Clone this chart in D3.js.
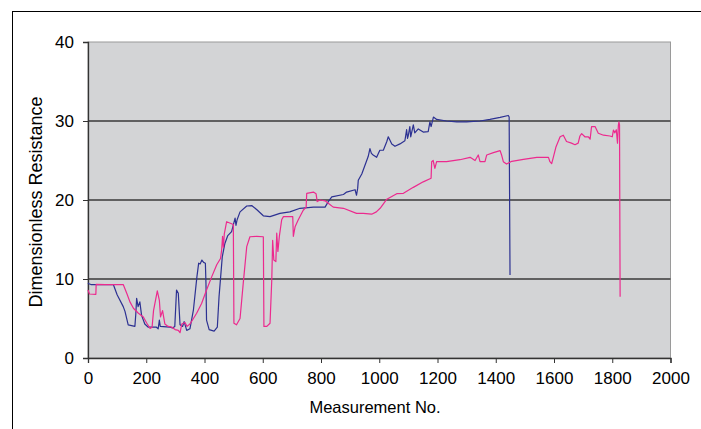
<!DOCTYPE html>
<html>
<head>
<meta charset="utf-8">
<script src="https://cdn.jsdelivr.net/npm/d3@7"></script>
<style>
  body { margin: 0; background: #fff; }
  svg { display: block; font-family: Arial, "Liberation Sans", sans-serif; }
</style>
</head>
<body>
<div id="chart"></div>
<script>
// ---- data ----
const xTicks = [0, 200, 400, 600, 800, 1000, 1200, 1400, 1600, 1800, 2000];
const yTicks = [0, 10, 20, 30, 40];

// blue series: measurement no. / dimensionless resistance
const blueX = [0, 3, 10, 50, 87, 100, 121, 127, 138, 161, 164, 167, 172, 178, 184, 195, 207, 235, 241, 245, 248, 281, 290, 298, 304, 310, 316, 325, 330, 339, 350, 362, 374, 380, 385, 391, 397, 403, 405, 407, 416, 433, 444, 450, 461, 470, 480, 493, 505, 508, 512, 522, 545, 562, 579, 602, 625, 659, 693, 728, 774, 814, 825, 837, 877, 888, 917, 922, 926, 928, 940, 951, 962, 968, 973, 979, 991, 1002, 1014, 1026, 1031, 1043, 1054, 1071, 1088, 1094, 1097, 1100, 1105, 1108, 1111, 1117, 1122, 1134, 1151, 1168, 1174, 1178, 1186, 1197, 1231, 1266, 1300, 1346, 1380, 1415, 1443, 1446, 1449];
const blueY = [9.5, 9.4, 9.3, 9.3, 9.3, 8.0, 6.5, 5.9, 4.2, 4.0, 5.5, 7.55, 6.5, 7.1, 5.4, 4.3, 3.9, 3.9, 3.7, 4.8, 4.0, 3.9, 3.8, 4.0, 8.6, 8.2, 4.2, 4.0, 4.6, 3.5, 3.7, 6.1, 10.3, 12.0, 11.9, 12.4, 12.1, 12.0, 9.5, 4.8, 3.6, 3.4, 3.9, 7.8, 12.8, 14.5, 15.5, 16.0, 17.7, 16.8, 17.5, 18.5, 19.24, 19.3, 18.8, 18.0, 17.9, 18.3, 18.5, 18.95, 19.1, 19.1, 19.8, 20.4, 20.7, 21.0, 21.3, 20.6, 21.5, 22.5, 23.3, 24.4, 25.5, 26.5, 25.9, 25.7, 25.4, 26.3, 26.3, 27.4, 28.0, 27.1, 26.8, 27.1, 27.5, 28.9, 27.8, 28.2, 29.3, 28.0, 28.5, 29.5, 28.5, 29.0, 28.6, 28.65, 29.9, 29.3, 30.5, 30.2, 30.0, 29.9, 29.9, 30.0, 30.2, 30.45, 30.7, 30.5, 10.5];

// pink series
const pinkX = [0, 5, 27, 28, 60, 121, 133, 144, 156, 173, 190, 202, 213, 220, 225, 238, 245, 249, 256, 264, 275, 288, 299, 310, 316, 322, 333, 340, 350, 362, 373, 390, 407, 425, 442, 455, 459, 462, 465, 468, 476, 493, 499, 501, 510, 522, 533, 545, 556, 579, 602, 604, 614, 625, 631, 634, 638, 645, 648, 652, 657, 665, 671, 694, 703, 705, 711, 722, 739, 749, 751, 774, 783, 787, 797, 814, 825, 842, 877, 922, 945, 974, 990, 1003, 1026, 1060, 1083, 1117, 1151, 1178, 1180, 1185, 1191, 1197, 1231, 1277, 1312, 1329, 1340, 1346, 1363, 1369, 1392, 1415, 1420, 1426, 1437, 1455, 1495, 1541, 1581, 1586, 1592, 1597, 1607, 1621, 1632, 1643, 1660, 1672, 1683, 1689, 1695, 1706, 1718, 1724, 1729, 1741, 1752, 1770, 1792, 1800, 1804, 1809, 1814, 1818, 1821, 1823, 1825, 1827];
const pinkY = [8.6, 8.1, 8.06, 9.33, 9.3, 9.3, 8.2, 7.1, 6.3, 5.66, 5.2, 4.4, 3.75, 3.9, 6.0, 8.5, 7.3, 5.2, 6.0, 4.3, 4.0, 3.9, 3.6, 3.5, 3.2, 4.3, 4.5, 4.0, 4.3, 5.0, 5.66, 6.9, 8.6, 10.3, 11.8, 12.6, 13.7, 15.4, 14.0, 15.7, 17.25, 17.0, 16.9, 4.4, 4.2, 5.0, 9.45, 14.1, 15.35, 15.4, 15.35, 4.0, 4.0, 4.4, 9.9, 14.9, 12.4, 12.2, 15.8, 13.5, 15.4, 17.5, 17.9, 17.9, 17.9, 15.4, 16.6, 17.5, 18.7, 19.1, 20.85, 21.0, 20.8, 19.8, 20.0, 19.9, 19.6, 19.1, 18.95, 18.3, 18.3, 18.2, 18.5, 18.95, 20.1, 20.8, 20.85, 21.6, 22.3, 22.75, 24.85, 25.0, 24.0, 24.85, 24.85, 25.1, 25.4, 25.0, 25.7, 24.85, 24.85, 25.7, 26.0, 26.25, 25.7, 24.85, 24.55, 24.9, 25.15, 25.4, 25.4, 24.85, 24.6, 25.3, 26.75, 28.0, 28.2, 27.4, 27.2, 27.0, 27.2, 28.1, 28.4, 28.0, 28.0, 27.7, 29.3, 29.3, 28.45, 28.2, 28.1, 28.0, 28.85, 28.5, 28.9, 27.2, 29.45, 29.9, 29.5, 7.75];

const xTitle = "Measurement No.";
const yTitle = "Dimensionless Resistance";

// ---- layout ----
const W = 701, H = 429;
const plot = { left: 88, right: 670.5, top: 42, bottom: 358 };

const svg = d3.select("#chart").append("svg")
    .attr("width", W)
    .attr("height", H);

// outer chart frame (runs off the right/bottom of the picture)
svg.append("rect")
    .attr("x", 12.5).attr("y", 11.5)
    .attr("width", W).attr("height", H)
    .attr("fill", "#fff")
    .attr("stroke", "#000")
    .attr("stroke-width", 1);

const x = d3.scaleLinear().domain([0, 2000]).range([plot.left, plot.right]);
const y = d3.scaleLinear().domain([0, 40]).range([plot.bottom, plot.top]);

// plot background
svg.append("rect")
    .attr("x", plot.left).attr("y", plot.top)
    .attr("width", plot.right - plot.left)
    .attr("height", plot.bottom - plot.top)
    .attr("fill", "#d3d4d6")
    .attr("stroke", "#9a9a9a")
    .attr("stroke-width", 1);

// gridlines
svg.append("g")
    .selectAll("line")
    .data(yTicks.filter(d => d > 0 && d < 40))
    .join("line")
    .attr("x1", plot.left).attr("x2", plot.right)
    .attr("y1", d => y(d)).attr("y2", d => y(d))
    .attr("stroke", "#3a3a3a")
    .attr("stroke-width", 1.3);

// axes
const xAxis = svg.append("g")
    .attr("transform", `translate(0,${plot.bottom})`)
    .call(d3.axisBottom(x).tickValues(xTicks).tickSize(5).tickPadding(9).tickFormat(d3.format("d")));

const yAxis = svg.append("g")
    .attr("transform", `translate(${plot.left},0)`)
    .call(d3.axisLeft(y).tickValues(yTicks).tickSize(5).tickPadding(9));

[xAxis, yAxis].forEach(a => {
    a.select(".domain").attr("stroke", "#333").attr("stroke-width", 1.3);
    a.selectAll(".tick line").attr("stroke", "#333");
    a.selectAll(".tick text")
        .attr("fill", "#000")
        .style("font-size", "17px")
        .style("font-family", "Arial, 'Liberation Sans', sans-serif");
});

// series lines
const line = d3.line()
    .x(d => x(d[0]))
    .y(d => y(d[1]));

const series = [
    { name: "blue", pts: d3.zip(blueX, blueY), color: "#2c3192" },
    { name: "pink", pts: d3.zip(pinkX, pinkY), color: "#ec2a8e" }
];

svg.append("g")
    .selectAll("path")
    .data(series)
    .join("path")
    .attr("d", d => line(d.pts))
    .attr("fill", "none")
    .attr("stroke", d => d.color)
    .attr("stroke-width", 1.2)
    .attr("stroke-linejoin", "round");

// axis titles
svg.append("text")
    .attr("x", 375)
    .attr("y", 413)
    .attr("text-anchor", "middle")
    .style("font-size", "16.5px")
    .text(xTitle);

svg.append("text")
    .attr("transform", `translate(42,${(plot.top + plot.bottom) / 2 + 2}) rotate(-90)`)
    .attr("text-anchor", "middle")
    .style("font-size", "18px")
    .text(yTitle);
</script>
</body>
</html>
